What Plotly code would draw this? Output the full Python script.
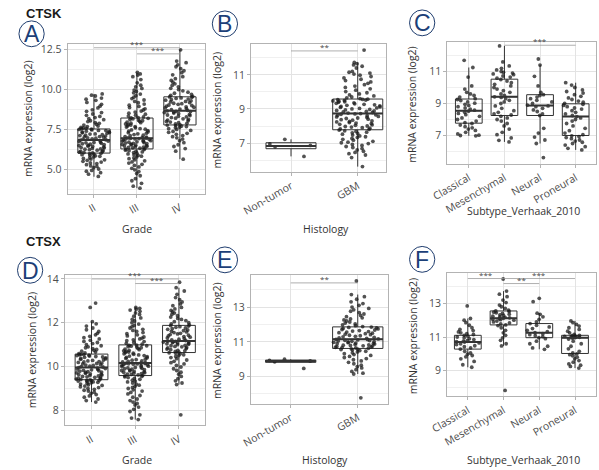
import plotly.graph_objects as go

W, H = 599, 470

# ---------------- categories ----------------
grade_cats = ["II", "III", "IV"]
hist_cats = ["Non-tumor", "GBM"]
subtype_cats = ["Classical", "Mesenchymal", "Neural", "Proneural"]

# ---------------- CTSK : Grade (A) ----------------
ctsk_grade_II = [4.58, 4.72, 4.81, 4.9, 4.95, 5.04, 5.12, 5.2, 5.23, 5.31, 5.38, 5.42, 5.47, 5.52, 5.58, 5.61, 5.66, 5.7, 5.74, 5.79, 5.83, 5.86, 5.9, 5.93, 5.97, 5.99, 6.02, 6.04,
                 6.06, 6.09, 6.13, 6.14, 6.19, 6.21, 6.24, 6.27, 6.29, 6.32, 6.36, 6.37, 6.41, 6.44, 6.46, 6.5, 6.52, 6.55, 6.58, 6.61, 6.64, 6.67, 6.69, 6.72, 6.75, 6.78, 6.81, 6.84,
                 6.86, 6.89, 6.92, 6.96, 6.97, 7.01, 7.04, 7.06, 7.09, 7.12, 7.14, 7.17, 7.21, 7.22, 7.26, 7.29, 7.31, 7.34, 7.37, 7.39, 7.43, 7.44, 7.47, 7.5, 7.52, 7.55, 7.57, 7.59,
                 7.63, 7.68, 7.71, 7.77, 7.82, 7.88, 7.93, 7.99, 8.04, 8.11, 8.17, 8.24, 8.31, 8.38, 8.46, 8.55, 8.63, 8.72, 8.84, 8.95, 9.06, 9.18, 9.31, 9.38, 9.45, 9.58, 9.63, 9.71]
ctsk_grade_III = [3.85, 3.97, 4.15, 4.31, 4.44, 4.62, 4.76, 4.88, 4.99, 5.08, 5.17, 5.26, 5.33, 5.41, 5.48, 5.55, 5.61, 5.68, 5.73, 5.79, 5.84, 5.89, 5.93, 5.98, 6.02, 6.06, 6.1, 6.14, 6.18, 6.21, 6.25, 6.28,
                  6.31, 6.33, 6.36, 6.38, 6.4, 6.43, 6.45, 6.47, 6.5, 6.52, 6.54, 6.57, 6.59, 6.61, 6.64, 6.66, 6.68, 6.71, 6.73, 6.75, 6.78, 6.8, 6.82, 6.84, 6.87, 6.89, 6.91, 6.93, 6.95, 6.96, 6.98, 6.99,
                  7.02, 7.06, 7.11, 7.14, 7.18, 7.23, 7.27, 7.3, 7.35, 7.4, 7.43, 7.47, 7.52, 7.55, 7.6, 7.65, 7.68, 7.72, 7.77, 7.8, 7.84, 7.89, 7.92, 7.96, 8.01, 8.04, 8.08, 8.12, 8.16, 8.19, 8.22, 8.24,
                  8.28, 8.33, 8.39, 8.45, 8.51, 8.58, 8.64, 8.71, 8.78, 8.86, 8.93, 9.01, 9.08, 9.16, 9.24, 9.33, 9.42, 9.51, 9.6, 9.7, 9.78, 9.86, 9.95, 10.05, 10.15, 10.25, 10.4, 10.6, 10.78, 10.88, 10.95, 11.05]
ctsk_grade_IV = [5.65, 6.15, 6.31, 6.44, 6.55, 6.68, 6.8, 6.9, 6.98, 7.05, 7.12, 7.2, 7.26, 7.32, 7.38, 7.44, 7.5, 7.55, 7.6, 7.64, 7.68, 7.71, 7.74, 7.77,
                 7.8, 7.84, 7.88, 7.92, 7.96, 8.0, 8.04, 8.08, 8.12, 8.16, 8.2, 8.24, 8.28, 8.32, 8.36, 8.4, 8.44, 8.48, 8.52, 8.55, 8.58, 8.61, 8.63, 8.66,
                 8.69, 8.73, 8.77, 8.8, 8.84, 8.88, 8.91, 8.95, 8.99, 9.02, 9.06, 9.1, 9.13, 9.17, 9.21, 9.24, 9.28, 9.32, 9.35, 9.39, 9.43, 9.46, 9.49, 9.52,
                 9.56, 9.62, 9.68, 9.75, 9.82, 9.9, 9.98, 10.06, 10.15, 10.24, 10.34, 10.44, 10.55, 10.66, 10.78, 10.9, 11.03, 11.15, 11.28, 11.4, 11.52, 11.65, 11.75, 12.45]
ctsk_grade_q1 = [6.03, 6.29, 7.78]
ctsk_grade_med = [6.85, 6.95, 8.67]
ctsk_grade_q3 = [7.53, 8.21, 9.53]
ctsk_grade_lo = [4.56, 3.85, 5.65]
ctsk_grade_hi = [9.71, 11.05, 12.45]
ctsk_grade_sig = [(0, 2, 12.58, "***"), (1, 2, 12.2, "***")]

# ---------------- CTSK : Histology (B) ----------------
ctsk_hist_nontumor = [6.22, 6.78, 6.86, 6.95, 7.22]
ctsk_hist_gbm = [5.62, 6.15, 6.3, 6.38, 6.45, 6.52, 6.6, 6.68, 6.74, 6.8, 6.86, 6.92, 6.97, 7.02, 7.05, 7.1, 7.17, 7.22, 7.27, 7.33, 7.37, 7.42, 7.47, 7.52, 7.56, 7.6, 7.64, 7.68, 7.72, 7.76,
                 7.8, 7.83, 7.87, 7.9, 7.94, 7.97, 8.0, 8.04, 8.07, 8.1, 8.14, 8.17, 8.2, 8.24, 8.27, 8.3, 8.34, 8.37, 8.4, 8.44, 8.47, 8.5, 8.53, 8.56, 8.6, 8.63, 8.66, 8.69, 8.71, 8.73,
                 8.76, 8.79, 8.82, 8.85, 8.88, 8.91, 8.94, 8.97, 9.0, 9.03, 9.06, 9.09, 9.12, 9.15, 9.18, 9.21, 9.24, 9.27, 9.3, 9.33, 9.36, 9.39, 9.42, 9.45, 9.47, 9.5, 9.52, 9.54, 9.56, 9.57,
                 9.6, 9.65, 9.7, 9.76, 9.82, 9.88, 9.95, 10.02, 10.1, 10.18, 10.26, 10.34, 10.42, 10.5, 10.58, 10.66, 10.74, 10.82, 10.9, 10.98, 11.04, 11.1, 11.15, 11.2, 11.4, 11.5, 11.58, 11.65, 11.72, 12.45]
ctsk_hist_q1 = [6.67, 7.78]
ctsk_hist_med = [6.83, 8.74]
ctsk_hist_q3 = [7.02, 9.58]
ctsk_hist_lo = [6.22, 5.62]
ctsk_hist_hi = [7.22, 11.72]
ctsk_hist_sig = [(0, 1, 12.4, "**")]

# ---------------- CTSK : Subtype (C) ----------------
ctsk_sub_classical = [6.98, 7.0, 7.02, 7.1, 7.2, 7.32, 7.4, 7.48, 7.55, 7.65, 7.75, 7.8, 7.9, 8.0, 8.1, 8.2, 8.3, 8.38, 8.45, 8.52,
                      8.58, 8.65, 8.72, 8.8, 8.88, 8.95, 9.02, 9.1, 9.18, 9.25, 9.3, 9.4, 9.5, 9.6, 9.7, 9.9, 10.1, 10.65, 11.25, 11.7]
ctsk_sub_mesenchymal = [6.6, 6.7, 6.85, 7.05, 7.2, 7.4, 7.6, 7.75, 7.9, 8.0, 8.1, 8.2, 8.28, 8.35, 8.45, 8.55, 8.7, 8.85, 9.0, 9.1, 9.2, 9.3, 9.38, 9.42,
                        9.5, 9.6, 9.7, 9.8, 9.9, 10.0, 10.1, 10.2, 10.3, 10.4, 10.5, 10.58, 10.65, 10.72, 10.8, 10.85, 10.9, 10.95, 11.0, 11.1, 11.2, 11.35, 11.6, 12.6]
ctsk_sub_neural = [5.62, 6.5, 6.72, 6.9, 7.15, 7.45, 8.25, 8.35, 8.5, 8.6, 8.7, 8.8, 8.85, 8.9, 9.0, 9.1, 9.2, 9.3, 9.4, 9.5, 9.55, 9.7, 10.1, 10.7, 11.4, 11.78]
ctsk_sub_proneural = [6.1, 6.2, 6.3, 6.4, 6.5, 6.58, 6.65, 6.72, 6.8, 6.87, 6.93, 6.98, 7.05, 7.15, 7.3, 7.45, 7.6, 7.75, 7.9, 8.0, 8.1, 8.18,
                      8.25, 8.35, 8.45, 8.55, 8.65, 8.72, 8.8, 8.88, 8.95, 9.0, 9.08, 9.15, 9.25, 9.35, 9.45, 9.55, 9.65, 9.75, 9.85, 10.0, 10.15, 10.3]
ctsk_sub_q1 = [7.77, 8.25, 8.25, 7.0]
ctsk_sub_med = [8.55, 9.42, 8.87, 8.19]
ctsk_sub_q3 = [9.28, 10.52, 9.55, 8.98]
ctsk_sub_lo = [6.98, 6.6, 6.5, 6.1]
ctsk_sub_hi = [11.25, 12.6, 11.4, 10.3]
ctsk_sub_sig = [(1, 3, 12.64, "***")]

# ---------------- CTSX : Grade (D) ----------------
ctsx_grade_II = [8.38, 8.45, 8.52, 8.6, 8.66, 8.72, 8.78, 8.83, 8.88, 8.92, 8.96, 9.0, 9.04, 9.08, 9.11, 9.14, 9.17, 9.2, 9.23, 9.26, 9.28, 9.3, 9.32, 9.34, 9.36, 9.37, 9.38, 9.39,
                 9.41, 9.43, 9.45, 9.47, 9.49, 9.51, 9.53, 9.55, 9.57, 9.59, 9.61, 9.63, 9.65, 9.67, 9.69, 9.71, 9.73, 9.75, 9.77, 9.79, 9.81, 9.83, 9.85, 9.87, 9.89, 9.91, 9.93, 9.95,
                 9.98, 10.0, 10.02, 10.05, 10.07, 10.09, 10.12, 10.14, 10.16, 10.19, 10.21, 10.23, 10.26, 10.28, 10.3, 10.33, 10.35, 10.37, 10.4, 10.42, 10.44, 10.46, 10.48, 10.5, 10.52, 10.54, 10.55, 10.56,
                 10.59, 10.62, 10.66, 10.7, 10.74, 10.78, 10.82, 10.86, 10.9, 10.95, 11.0, 11.05, 11.1, 11.15, 11.2, 11.26, 11.32, 11.38, 11.45, 11.52, 11.6, 11.68, 11.76, 11.85, 11.95, 12.05, 12.7, 12.9]
ctsx_grade_III = [7.58, 7.65, 7.8, 7.95, 8.05, 8.15, 8.25, 8.32, 8.38, 8.45, 8.52, 8.6, 8.68, 8.75, 8.82, 8.88, 8.94, 9.0, 9.05, 9.1, 9.15, 9.2, 9.25, 9.3, 9.34, 9.38, 9.42, 9.46, 9.5, 9.53, 9.55, 9.58,
                  9.6, 9.62, 9.64, 9.66, 9.68, 9.7, 9.72, 9.74, 9.76, 9.78, 9.8, 9.82, 9.84, 9.86, 9.88, 9.9, 9.92, 9.94, 9.96, 9.98, 10.0, 10.02, 10.04, 10.06, 10.08, 10.1, 10.11, 10.12, 10.13, 10.14, 10.15, 10.16,
                  10.18, 10.21, 10.24, 10.26, 10.29, 10.32, 10.34, 10.37, 10.4, 10.42, 10.45, 10.48, 10.5, 10.53, 10.56, 10.58, 10.61, 10.64, 10.66, 10.69, 10.72, 10.74, 10.77, 10.8, 10.83, 10.86, 10.89, 10.91, 10.93, 10.95, 10.97, 10.98,
                  11.02, 11.06, 11.1, 11.14, 11.18, 11.22, 11.26, 11.3, 11.35, 11.4, 11.45, 11.5, 11.55, 11.6, 11.65, 11.7, 11.76, 11.82, 11.88, 11.94, 12.0, 12.08, 12.15, 12.22, 12.3, 12.38, 12.45, 12.52, 12.58, 12.62, 12.66, 12.7]
ctsx_grade_IV = [7.8, 9.18, 9.25, 9.35, 9.45, 9.55, 9.65, 9.74, 9.82, 9.9, 9.98, 10.05, 10.12, 10.18, 10.24, 10.3, 10.36, 10.41, 10.46, 10.5, 10.54, 10.58, 10.61, 10.63,
                 10.66, 10.69, 10.72, 10.74, 10.77, 10.8, 10.82, 10.85, 10.87, 10.9, 10.92, 10.95, 10.97, 11.0, 11.02, 11.04, 11.06, 11.08, 11.1, 11.12, 11.13, 11.14, 11.15, 11.16,
                 11.19, 11.22, 11.25, 11.28, 11.31, 11.34, 11.37, 11.4, 11.43, 11.46, 11.49, 11.52, 11.55, 11.58, 11.61, 11.64, 11.67, 11.7, 11.73, 11.76, 11.79, 11.82, 11.85, 11.87,
                 11.9, 11.95, 12.0, 12.05, 12.1, 12.15, 12.2, 12.26, 12.32, 12.38, 12.44, 12.5, 12.56, 12.63, 12.7, 12.78, 12.86, 12.95, 13.05, 13.15, 13.3, 13.45, 13.6, 13.85]
ctsx_grade_q1 = [9.4, 9.59, 10.64]
ctsx_grade_med = [9.96, 10.16, 11.17]
ctsx_grade_q3 = [10.57, 10.99, 11.88]
ctsx_grade_lo = [8.38, 7.58, 9.18]
ctsx_grade_hi = [12.05, 12.7, 13.6]
ctsx_grade_sig = [(0, 2, 14.0, "***"), (1, 2, 13.79, "***")]

# ---------------- CTSX : Histology (E) ----------------
ctsx_hist_nontumor = [9.47, 9.85, 9.9, 9.93, 10.0]
ctsx_hist_gbm = [7.78, 9.15, 9.2, 9.3, 9.4, 9.5, 9.58, 9.66, 9.74, 9.82, 9.9, 9.97, 10.04, 10.1, 10.16, 10.22, 10.27, 10.32, 10.37, 10.42, 10.46, 10.5, 10.53, 10.56, 10.58, 10.6,
                 10.63, 10.65, 10.67, 10.69, 10.71, 10.73, 10.75, 10.77, 10.79, 10.81, 10.83, 10.85, 10.87, 10.89, 10.91, 10.93, 10.95, 10.97, 10.99, 11.01, 11.03, 11.05, 11.07, 11.09, 11.11, 11.13, 11.14,
                 11.17, 11.2, 11.23, 11.26, 11.29, 11.32, 11.35, 11.38, 11.41, 11.44, 11.47, 11.5, 11.53, 11.56, 11.59, 11.62, 11.65, 11.68, 11.71, 11.74, 11.77, 11.8, 11.83, 11.85,
                 11.88, 11.93, 11.98, 12.03, 12.08, 12.14, 12.2, 12.26, 12.32, 12.38, 12.45, 12.52, 12.6, 12.68, 12.76, 12.84, 12.92, 13.0, 13.1, 13.2, 13.3, 13.45, 13.6, 13.72, 14.5]
ctsx_hist_q1 = [9.82, 10.62]
ctsx_hist_med = [9.9, 11.15]
ctsx_hist_q3 = [9.95, 11.86]
ctsx_hist_lo = [9.82, 9.15]
ctsx_hist_hi = [10.0, 13.72]
ctsx_hist_sig = [(0, 1, 14.39, "**")]

# ---------------- CTSX : Subtype (F) ----------------
ctsx_sub_classical = [9.2, 9.35, 9.55, 9.7, 9.82, 9.9, 9.98, 10.05, 10.15, 10.28, 10.35, 10.42, 10.48, 10.55, 10.6, 10.65, 10.7, 10.72, 10.75,
                      10.8, 10.85, 10.9, 10.95, 11.0, 11.05, 11.1, 11.15, 11.2, 11.25, 11.3, 11.38, 11.45, 11.55, 11.7, 11.85, 12.0, 12.1, 12.85]
ctsx_sub_mesenchymal = [7.82, 10.47, 10.6, 10.8, 10.95, 11.1, 11.25, 11.4, 11.55, 11.68, 11.72, 11.78, 11.84, 11.9, 11.95, 12.0, 12.03, 12.06, 12.09, 12.11, 12.14,
                        12.17, 12.2, 12.24, 12.28, 12.32, 12.36, 12.4, 12.44, 12.48, 12.52, 12.55, 12.6, 12.7, 12.8, 12.9, 13.05, 13.2, 13.4, 13.55, 13.73, 14.45]
ctsx_sub_neural = [10.27, 10.35, 10.45, 10.6, 10.75, 10.9, 10.96, 11.02, 11.08, 11.14, 11.2, 11.26, 11.32, 11.4, 11.5, 11.6, 11.7, 11.8, 11.9, 12.05, 12.2, 12.35, 12.42, 13.1, 13.3]
ctsx_sub_proneural = [9.15, 9.25, 9.32, 9.4, 9.5, 9.6, 9.7, 9.8, 9.88, 9.95, 10.0, 10.05, 10.15, 10.3, 10.45, 10.6, 10.75, 10.88, 10.94, 10.96, 10.98, 11.0,
                      11.02, 11.04, 11.06, 11.08, 11.1, 11.15, 11.25, 11.35, 11.45, 11.55, 11.65, 11.75, 11.85, 11.96]
ctsx_sub_q1 = [10.28, 11.72, 10.96, 10.02]
ctsx_sub_med = [10.7, 12.11, 11.26, 10.96]
ctsx_sub_q3 = [11.1, 12.55, 11.8, 11.1]
ctsx_sub_lo = [9.2, 10.47, 10.27, 9.15]
ctsx_sub_hi = [12.1, 13.73, 12.42, 11.96]
ctsx_sub_sig = [(0, 1, 14.48, "***"), (1, 3, 14.48, "***"), (1, 2, 14.18, "**")]

Y_TITLE = "mRNA expression (log2)"

# ---------------- layout of the six panels (pixels) ----------------
panels = [
    dict(letter="A", cats=grade_cats, groups=[ctsk_grade_II, ctsk_grade_III, ctsk_grade_IV],
         q1=ctsk_grade_q1, med=ctsk_grade_med, q3=ctsk_grade_q3, lo=ctsk_grade_lo, hi=ctsk_grade_hi,
         sig=ctsk_grade_sig, xtitle="Grade",
         area=(52, 41, 194, 192), xr=(-0.615, 2.595), yr=(3.5, 12.83), tick0=5, dtick=2.5, fmt=".1f",
         xt=(123.5, 227), yt=(12, 117), circ=(15, 31)),
    dict(letter="B", cats=hist_cats, groups=[ctsk_hist_nontumor, ctsk_hist_gbm],
         q1=ctsk_hist_q1, med=ctsk_hist_med, q3=ctsk_hist_q3, lo=ctsk_hist_lo, hi=ctsk_hist_hi,
         sig=ctsk_hist_sig, xtitle="Histology",
         area=(241, 41.7, 380, 170), xr=(-0.597, 1.427), yr=(5.31, 12.78), tick0=7, dtick=2, fmt="d",
         xt=(318, 227), yt=(206, 108), circ=(214, 21)),
    dict(letter="C", cats=subtype_cats, groups=[ctsk_sub_classical, ctsk_sub_mesenchymal, ctsk_sub_neural, ctsk_sub_proneural],
         q1=ctsk_sub_q1, med=ctsk_sub_med, q3=ctsk_sub_q3, lo=ctsk_sub_lo, hi=ctsk_sub_hi,
         sig=ctsk_sub_sig, xtitle="Subtype_Verhaak_2010",
         area=(443, 39.3, 596, 161.7), xr=(-0.6, 3.573), yr=(5.24, 12.84), tick0=7, dtick=2, fmt="d",
         xt=(521, 209), yt=(407, 102), circ=(417, 20)),
    dict(letter="D", cats=grade_cats, groups=[ctsx_grade_II, ctsx_grade_III, ctsx_grade_IV],
         q1=ctsx_grade_q1, med=ctsx_grade_med, q3=ctsx_grade_q3, lo=ctsx_grade_lo, hi=ctsx_grade_hi,
         sig=ctsx_grade_sig, xtitle="Grade",
         area=(49.3, 273.3, 194, 425), xr=(-0.609, 2.607), yr=(7.32, 14.2), tick0=8, dtick=2, fmt="d",
         xt=(123, 460), yt=(15, 350), circ=(13.5, 269)),
    dict(letter="E", cats=hist_cats, groups=[ctsx_hist_nontumor, ctsx_hist_gbm],
         q1=ctsx_hist_q1, med=ctsx_hist_med, q3=ctsx_hist_q3, lo=ctsx_hist_lo, hi=ctsx_hist_hi,
         sig=ctsx_hist_sig, xtitle="Histology",
         area=(240.7, 273.3, 381.7, 403.3), xr=(-0.594, 1.449), yr=(7.44, 14.87), tick0=9, dtick=2, fmt="d",
         xt=(317, 460), yt=(206, 340), circ=(214, 258.5)),
    dict(letter="F", cats=subtype_cats, groups=[ctsx_sub_classical, ctsx_sub_mesenchymal, ctsx_sub_neural, ctsx_sub_proneural],
         q1=ctsx_sub_q1, med=ctsx_sub_med, q3=ctsx_sub_q3, lo=ctsx_sub_lo, hi=ctsx_sub_hi,
         sig=ctsx_sub_sig, xtitle="Subtype_Verhaak_2010",
         area=(442.7, 271.7, 596, 395.7), xr=(-0.579, 3.59), yr=(7.48, 14.81), tick0=9, dtick=2, fmt="d",
         xt=(521, 460), yt=(407, 335), circ=(417, 258)),
]

BOX_W = 0.75
LINE_C = "#333333"
PT_C = "rgba(25,25,25,0.75)"
FONT = "Open Sans"


def fx(px):
    return px / W


def fy(py):
    return 1 - py / H


fig = go.Figure()
shapes = []
annotations = []
layout = {}

for i, p in enumerate(panels):
    n = i + 1
    xa, ya = f"x{n}", f"y{n}"
    xkey, ykey = ("xaxis" if n == 1 else f"xaxis{n}"), ("yaxis" if n == 1 else f"yaxis{n}")
    x0, y0, x1, y1 = p["area"]

    for j, vals in enumerate(p["groups"]):
        # box drawn from the quartiles / whisker ends
        fig.add_trace(go.Box(
            x=[j], q1=[p["q1"][j]], median=[p["med"][j]], q3=[p["q3"][j]],
            lowerfence=[p["lo"][j]], upperfence=[p["hi"][j]],
            width=BOX_W, whiskerwidth=0, boxpoints=False,
            fillcolor="rgba(255,255,255,0)", line=dict(color=LINE_C, width=1),
            xaxis=xa, yaxis=ya, showlegend=False, hoverinfo="skip"))
        # jittered sample points (plotly's own jitter)
        fig.add_trace(go.Box(
            x=[j] * len(vals), y=vals, boxpoints="all", jitter=1.0, pointpos=0,
            width=BOX_W, fillcolor="rgba(0,0,0,0)", line=dict(color="rgba(0,0,0,0)", width=0),
            marker=dict(color=PT_C, size=3.8, line=dict(width=0)),
            xaxis=xa, yaxis=ya, showlegend=False))
        # thicker median line, ggplot style
        shapes.append(dict(type="line", xref=xa, yref=ya,
                           x0=j - BOX_W / 2, x1=j + BOX_W / 2,
                           y0=p["med"][j], y1=p["med"][j],
                           line=dict(color=LINE_C, width=2)))

    for (a, b, yv, lab) in p["sig"]:
        shapes.append(dict(type="line", xref=xa, yref=ya, x0=a, x1=b, y0=yv, y1=yv,
                           line=dict(color="#9a9a9a", width=0.8)))
        annotations.append(dict(x=(a + b) / 2, y=yv, xref=xa, yref=ya, text=lab,
                                showarrow=False, yanchor="bottom", yshift=-3,
                                font=dict(size=8, color="#444444", family=FONT)))

    layout[xkey] = dict(domain=[fx(x0), fx(x1)], range=list(p["xr"]), anchor=ya,
                        tickmode="array", tickvals=list(range(len(p["cats"]))), ticktext=p["cats"],
                        tickangle=-30, showgrid=True, gridcolor="#e3e3e3", gridwidth=1,
                        showline=True, linecolor="#b3b3b3", linewidth=1, mirror=True,
                        ticks="outside", ticklen=3, tickcolor="#b3b3b3", zeroline=False,
                        tickfont=dict(size=10.5, color="#4d4d4d", family=FONT))
    layout[ykey] = dict(domain=[fy(y1), fy(y0)], range=list(p["yr"]), anchor=xa,
                        tickmode="linear", tick0=p["tick0"], dtick=p["dtick"], tickformat=p["fmt"],
                        showgrid=True, gridcolor="#e3e3e3", gridwidth=1,
                        minor=dict(tickmode="linear", tick0=p["tick0"], dtick=p["dtick"] / 2,
                                   showgrid=True, gridcolor="#f0f0f0", gridwidth=0.6, ticks=""),
                        showline=True, linecolor="#b3b3b3", linewidth=1, mirror=True,
                        ticks="outside", ticklen=3, tickcolor="#b3b3b3", zeroline=False,
                        tickfont=dict(size=10.5, color="#4d4d4d", family=FONT))

    annotations.append(dict(x=fx(p["xt"][0]), y=fy(p["xt"][1]), xref="paper", yref="paper",
                            text=p["xtitle"], showarrow=False, xanchor="center", yanchor="middle",
                            font=dict(size=10.5, color="#333333", family=FONT)))
    annotations.append(dict(x=fx(p["yt"][0]), y=fy(p["yt"][1]), xref="paper", yref="paper",
                            text=Y_TITLE, showarrow=False, textangle=-90, xanchor="center", yanchor="middle",
                            font=dict(size=10.5, color="#333333", family=FONT)))

    cx, cy = p["circ"]
    r = 13
    shapes.append(dict(type="circle", xref="paper", yref="paper",
                       x0=fx(cx - r), x1=fx(cx + r), y0=fy(cy + r), y1=fy(cy - r),
                       line=dict(color="#1f3d6e", width=1), fillcolor="white"))
    annotations.append(dict(x=fx(cx), y=fy(cy + 0.5), xref="paper", yref="paper", text=p["letter"],
                            showarrow=False, xanchor="center", yanchor="middle",
                            font=dict(size=23, color="#1c3f78", family="Liberation Sans")))

for txt, py in [("CTSK", 11), ("CTSX", 240)]:
    annotations.append(dict(x=fx(7), y=fy(py), xref="paper", yref="paper", text=f"<b>{txt}</b>",
                            showarrow=False, xanchor="left", yanchor="middle",
                            font=dict(size=13, color="#1a1a1a", family="Liberation Sans")))

fig.update_layout(width=W, height=H, margin=dict(l=0, r=0, t=0, b=0),
                  paper_bgcolor="white", plot_bgcolor="white", boxmode="overlay",
                  showlegend=False, shapes=shapes, annotations=annotations, **layout)

fig.write_html("out.html", post_script="document.body.style.margin='0px';",
               config={"displayModeBar": False})
